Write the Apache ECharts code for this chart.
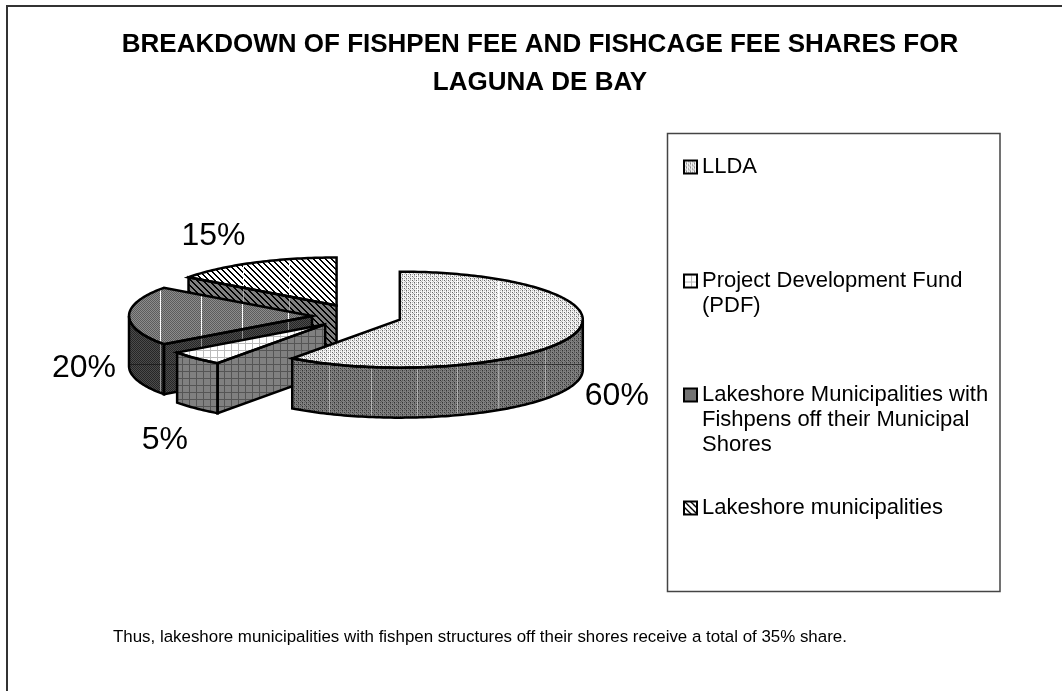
<!DOCTYPE html>
<html>
<head>
<meta charset="utf-8">
<style>
    html, body { margin: 0; padding: 0; background: #fff; }
    #echart_container { width: 1062px; height: 691px; }
</style>
</head>
<body>
<div id="echart_container"></div>
<script src="https://cdn.jsdelivr.net/npm/echarts@6/dist/echarts.min.js"></script>
<script>
// data
const categories = [
    'LLDA',
    'Project Development Fund (PDF)',
    'Lakeshore Municipalities with Fishpens off their Municipal Shores',
    'Lakeshore municipalities'
];
const shares = [60, 5, 20, 15];
const legendLines = [
    ['LLDA'],
    ['Project Development Fund', '(PDF)'],
    ['Lakeshore Municipalities with', 'Fishpens off their Municipal', 'Shores'],
    ['Lakeshore municipalities']
];
const titleText = 'BREAKDOWN OF FISHPEN FEE AND FISHCAGE FEE SHARES FOR\nLAGUNA DE BAY';
const noteText = 'Thus, lakeshore municipalities with fishpen structures off their shores receive a total of 35% share.';

// layout of the fake 3d pie
const PIE = {cx: 357, cy: 316, rx: 183, ry: 48, depth: 50, explode: 45};
const LABEL_NUDGE = [[43, 62], [-31, 82], [-45, 52], [-40, -27]];
const SEAMS = [[-71, -29, 17, 57, 98, 145], [], [-152, -111, -70, -24], [-94, -48]];
const BAND_Y = [[364], [], [364], []];
const DRAW_Z = [8, 7, 6, 5];
const LEGEND_Y = [167, 281, 395, 508];

// pattern tiles, one letter = one pixel
function tile(rows, colors) {
    const canvas = document.createElement('canvas');
    canvas.width = rows[0].length;
    canvas.height = rows.length;
    const ctx = canvas.getContext('2d');
    rows.forEach((row, y) => {
        row.split('').forEach((c, x) => {
            ctx.fillStyle = colors[c];
            ctx.fillRect(x, y, 1, 1);
        });
    });
    return {image: canvas, repeat: 'repeat'};
}

const WEAVE = ['acbc', 'cbcc', 'bcac', 'ccbc'];
const CHECK = ['ab', 'ba'];
const GRID = [
    'bbbbbbb',
    'baaaaaa',
    'baaaaaa',
    'baaaaaa',
    'baaaaaa',
    'baaaaaa',
    'baaaaaa'
];
const HATCH = ['aabbbb', 'baabbb', 'bbaabb', 'bbbaab', 'bbbbaa', 'abbbba'];

const TOPS = [
    tile(WEAVE, {a: '#666', b: '#b4b4b4', c: '#f4f4f4'}),
    tile(GRID, {a: '#fff', b: '#bbb'}),
    tile(CHECK, {a: '#5c5c5c', b: '#8c8c8c'}),
    tile(HATCH, {a: '#000', b: '#fff'})
];
const WALLS = [
    tile(WEAVE, {a: '#333', b: '#5c5c5c', c: '#808080'}),
    tile(GRID, {a: '#808080', b: '#555'}),
    tile(CHECK, {a: '#262626', b: '#4c4c4c'}),
    tile(HATCH, {a: '#000', b: '#808080'})
];

const _METHODS = {
    // all y (or x) spans where a vertical (or horizontal) line is inside the polygon
    spansAt(points, v, axis) {
        const hits = [];
        const other = axis === 0 ? 1 : 0;
        points.forEach((p, i) => {
            const q = points[(i + 1) % points.length];
            if ((p[axis] <= v) !== (q[axis] <= v)) {
                hits.push(p[other] + (v - p[axis]) / (q[axis] - p[axis]) * (q[other] - p[other]));
            }
        });
        hits.sort((a, b) => a - b);
        const spans = [];
        for (let i = 0; i + 1 < hits.length; i += 2) {
            spans.push([hits[i], hits[i + 1]]);
        }
        return spans;
    },
    seamLines(points, xs, ys, stroke, opacity) {
        const lines = [];
        xs.forEach(x => {
            _METHODS.spansAt(points, x, 0).forEach(s => {
                lines.push({
                    type: 'line',
                    shape: {x1: x, y1: s[0], x2: x, y2: s[1]},
                    style: {stroke: stroke, lineWidth: 1, opacity: opacity}
                });
            });
        });
        ys.forEach(y => {
            _METHODS.spansAt(points, y + 0.5, 1).forEach(s => {
                lines.push({
                    type: 'line',
                    shape: {x1: s[0], y1: y + 0.5, x2: s[1], y2: y + 0.5},
                    style: {stroke: '#111', lineWidth: 1, opacity: 0.6}
                });
            });
        });
        return lines;
    },
    renderSlice(index, api) {
        const value = api.value(0);
        let before = 0;
        for (let i = 0; i < index; i++) before += shares[i];
        const total = shares.reduce((a, b) => a + b, 0);
        const a0 = before / total * Math.PI * 2;
        const a1 = (before + value) / total * Math.PI * 2;
        const mid = (a0 + a1) / 2;

        const cx = PIE.cx + PIE.explode * Math.sin(mid);
        const cy = PIE.cy - PIE.explode * Math.cos(mid) * PIE.ry / PIE.rx;
        const at = t => [cx + PIE.rx * Math.sin(t), cy - PIE.ry * Math.cos(t)];
        const down = p => [p[0], p[1] + PIE.depth];
        const arc = (from, to) => {
            const n = Math.max(2, Math.ceil((to - from) / 0.02));
            const pts = [];
            for (let i = 0; i <= n; i++) pts.push(at(from + (to - from) * i / n));
            return pts;
        };

        const apex = [cx, cy];
        const top = [apex].concat(arc(a0, a1));
        const faces = [];

        // flat cut face that looks to the viewer
        if (-Math.sin(a0) > 0.001) {
            const edge = at(a0);
            faces.push([apex, edge, down(edge), down(apex)]);
        }
        // outer rim, front half only
        const rimFrom = Math.max(a0, Math.PI / 2);
        const rimTo = Math.min(a1, Math.PI * 1.5);
        if (rimTo > rimFrom) {
            const rim = arc(rimFrom, rimTo);
            faces.push(rim.concat(rim.map(down).reverse()));
        }

        // seam offsets are measured from the slice's own centre, snapped to a pixel
        const seamXs = SEAMS[index].map(dx => Math.round(cx + dx) + 0.5);

        const children = [];
        faces.forEach(pts => {
            children.push({type: 'polygon', shape: {points: pts}, style: {fill: WALLS[index], stroke: null}});
            children.push(..._METHODS.seamLines(pts, seamXs, BAND_Y[index], '#ddd', 0.55));
        });
        children.push({type: 'polygon', shape: {points: top}, style: {fill: TOPS[index], stroke: null}});
        children.push(..._METHODS.seamLines(top, seamXs, [], '#fff', 1));
        faces.concat([top]).forEach(pts => {
            children.push({
                type: 'polygon',
                shape: {points: pts},
                style: {fill: 'none', stroke: '#000', lineWidth: 2.5, lineJoin: 'miter'}
            });
        });
        children.push({
            type: 'text',
            style: {
                text: value + '%',
                x: cx + PIE.rx * Math.sin(mid) + LABEL_NUDGE[index][0],
                y: cy - PIE.ry * Math.cos(mid) + LABEL_NUDGE[index][1],
                align: 'center',
                verticalAlign: 'middle',
                font: '32px "Liberation Sans", Arial, sans-serif',
                fill: '#000'
            }
        });
        return {type: 'group', children: children};
    },
    initChart() {
        const series = categories.map((name, i) => ({
            name: name,
            type: 'custom',
            coordinateSystem: 'none',
            z: DRAW_Z[i],
            silent: true,
            animation: false,
            data: [[shares[i]]],
            renderItem: (params, api) => _METHODS.renderSlice(i, api)
        }));

        const legends = categories.map((name, i) => {
            const lines = legendLines[i];
            // blank lines in front keep the swatch level with the first text line
            const blanks = new Array(lines.length - 1).fill('');
            const text = blanks.concat(lines).join('\n');
            const blockLines = lines.length * 2 - 1;
            return {
                orient: 'vertical',
                left: 683,
                top: LEGEND_Y[i] - blockLines * 25 / 2,
                padding: 0,
                itemWidth: 13,
                itemHeight: 13,
                selectedMode: false,
                formatter: () => text,
                textStyle: {
                    fontFamily: '"Liberation Sans", Arial, sans-serif',
                    fontSize: 22,
                    lineHeight: 25,
                    color: '#000'
                },
                data: [{
                    name: name,
                    icon: 'rect',
                    itemStyle: {color: TOPS[i], borderColor: '#000', borderWidth: 2}
                }]
            };
        });

        const option = {
            backgroundColor: '#fff',
            animation: false,
            title: [
                {
                    text: titleText,
                    left: 535,
                    top: 21,
                    textAlign: 'center',
                    textStyle: {
                        fontFamily: '"Liberation Sans", Arial, sans-serif',
                        fontSize: 26,
                        fontWeight: 'bold',
                        lineHeight: 38,
                        color: '#000'
                    }
                },
                {
                    text: noteText,
                    left: 113,
                    top: 629,
                    padding: 0,
                    textStyle: {
                        fontFamily: '"Liberation Sans", Arial, sans-serif',
                        fontSize: 16.9,
                        fontWeight: 'normal',
                        color: '#000'
                    }
                }
            ],
            legend: legends,
            graphic: [
                {
                    type: 'polyline',
                    silent: true,
                    shape: {points: [[7, 691], [7, 6], [1062, 6]]},
                    style: {fill: 'none', stroke: '#333', lineWidth: 2}
                },
                {
                    type: 'rect',
                    silent: true,
                    shape: {x: 667.5, y: 133.5, width: 332.5, height: 458},
                    style: {fill: 'none', stroke: '#444', lineWidth: 1.5}
                }
            ],
            series: series
        };
        const myChart = echarts.init(document.querySelector('#echart_container'));
        myChart.setOption(option);
    }
};

_METHODS.initChart();
</script>
</body>
</html>
